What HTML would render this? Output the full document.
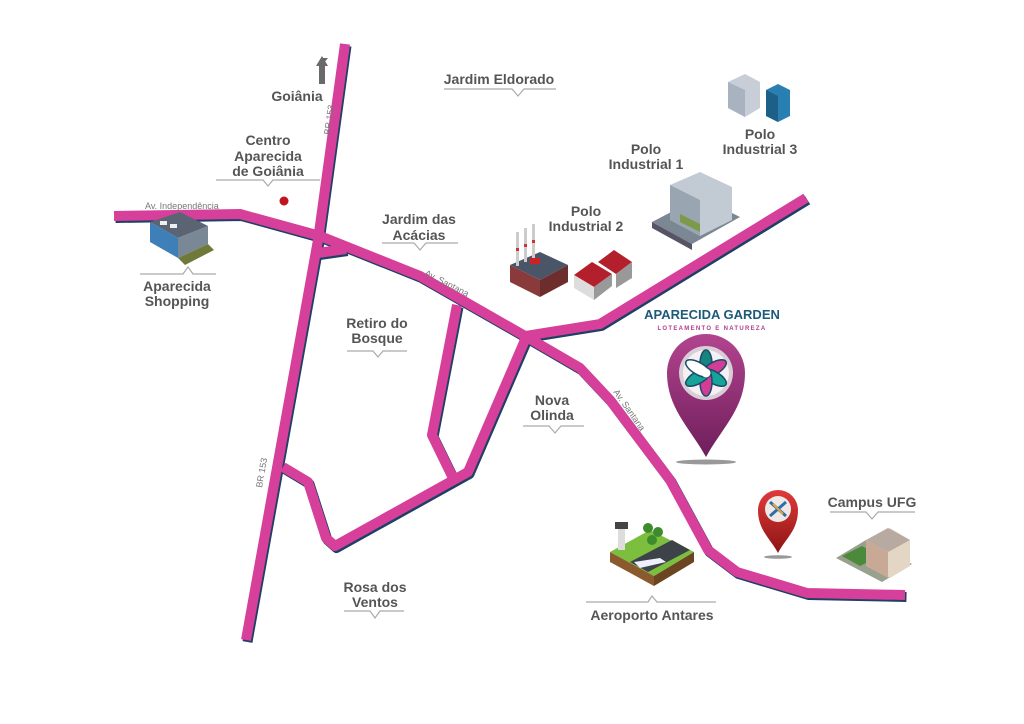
<!DOCTYPE html>
<html><head><meta charset="utf-8"><style>
html,body{margin:0;padding:0;background:#fff;width:1024px;height:724px;overflow:hidden}
svg{display:block}
.l{font-family:"Liberation Sans",sans-serif;font-weight:bold;font-size:14px;fill:#555;text-anchor:middle}
.s{font-family:"Liberation Sans",sans-serif;font-size:9px;fill:#777}
.u{fill:none;stroke:#aaa;stroke-width:1.2}
</style></head><body>
<svg width="1024" height="724" viewBox="0 0 1024 724">
<defs>
<linearGradient id="pg" x1="0" y1="0" x2="0" y2="1"><stop offset="0" stop-color="#b3448f"/><stop offset="1" stop-color="#6e1e5b"/></linearGradient>
<linearGradient id="rg" x1="0" y1="0" x2="0" y2="1"><stop offset="0" stop-color="#e03a3a"/><stop offset="1" stop-color="#8e1414"/></linearGradient>
</defs>
<g fill="none" stroke-linejoin="round" stroke-linecap="butt">
<g stroke="#1e3f66" stroke-width="10" transform="translate(1.5,2)">
<polyline points="345,44 318,240 246,640"/>
<polyline points="114,216 240,214 320,236 420,276 525,336 600,324 806,198"/>
<polyline points="525,336 580,368 610,400 670,480 708,550 737,572 807,593 905,595"/>
<polyline points="318,253 346,249"/>
<polyline points="525,340 468,472 335,546 326,538 308,482 283,467"/>
<polyline points="457,305 432,435 452,476"/>
</g>
<g stroke="#d6409a" stroke-width="10">
<polyline points="345,44 318,240 246,640"/>
<polyline points="114,216 240,214 320,236 420,276 525,336 600,324 806,198"/>
<polyline points="525,336 580,368 610,400 670,480 708,550 737,572 807,593 905,595"/>
<polyline points="318,253 346,249"/>
<polyline points="525,340 468,472 335,546 326,538 308,482 283,467"/>
<polyline points="457,305 432,435 452,476"/>
</g>
</g>
<!-- road labels -->
<text class="s" x="145" y="209">Av. Independência</text>
<text class="s" transform="translate(330,135) rotate(-82)">BR 153</text>
<text class="s" transform="translate(262,488) rotate(-80)">BR 153</text>
<text class="s" transform="translate(424,275) rotate(27)">Av. Santana</text>
<text class="s" transform="translate(613,392) rotate(55)">Av. Santana</text>
<!-- arrow -->
<polygon points="322,65 317,65 322,58 316,58 322,58 328,58" fill="#666"/>
<polygon points="316,66 322,56 328,66 325,66 325,84 319,84 319,66" fill="#6a6a6a"/>
<!-- labels -->
<text class="l" x="297" y="101">Goiânia</text>
<text class="l" x="268" y="145">Centro</text>
<text class="l" x="268" y="161">Aparecida</text>
<text class="l" x="268" y="176">de Goiânia</text>
<polyline class="u" points="216,180 263,180 268,186 273,180 320,180"/>
<circle cx="284" cy="201" r="4.5" fill="#c0141e"/>
<text class="l" x="499" y="84">Jardim Eldorado</text>
<polyline class="u" points="444,89 512,89 518,96 524,89 556,89"/>
<text class="l" x="419" y="224">Jardim das</text>
<text class="l" x="419" y="240">Acácias</text>
<polyline class="u" points="382,243 414,243 420,250 426,243 458,243"/>
<text class="l" x="177" y="291">Aparecida</text>
<text class="l" x="177" y="306">Shopping</text>
<polyline class="u" points="140,274 183,274 188,267 193,274 216,274"/>
<text class="l" x="377" y="328">Retiro do</text>
<text class="l" x="377" y="343">Bosque</text>
<polyline class="u" points="347,351 373,351 378,357 383,351 407,351"/>
<text class="l" x="552" y="405">Nova</text>
<text class="l" x="552" y="420">Olinda</text>
<polyline class="u" points="523,426 549,426 555,433 561,426 584,426"/>
<text class="l" x="375" y="592">Rosa dos</text>
<text class="l" x="375" y="607">Ventos</text>
<polyline class="u" points="344,611 370,611 375,618 380,611 404,611"/>
<text class="l" x="652" y="620">Aeroporto Antares</text>
<polyline class="u" points="586,602 648,602 652,596 657,602 716,602"/>
<text class="l" x="872" y="507">Campus UFG</text>
<polyline class="u" points="830,512 866,512 872,519 878,512 915,512"/>
<text class="l" x="646" y="154">Polo</text>
<text class="l" x="646" y="169">Industrial 1</text>
<text class="l" x="586" y="216">Polo</text>
<text class="l" x="586" y="231">Industrial 2</text>
<text class="l" x="760" y="139">Polo</text>
<text class="l" x="760" y="154">Industrial 3</text>
<!-- Aparecida Garden -->
<text x="712" y="319" text-anchor="middle" font-family="Liberation Sans,sans-serif" font-weight="bold" font-size="13" fill="#1d5a78">APARECIDA GARDEN</text>
<text x="712" y="330" text-anchor="middle" font-family="Liberation Sans,sans-serif" font-weight="bold" font-size="6" letter-spacing="1.3" fill="#b23b8c">LOTEAMENTO E NATUREZA</text>
<ellipse cx="706" cy="462" rx="30" ry="2.5" fill="#555" opacity="0.6"/>
<path d="M706,457 C690,428 667,408 667,373 A39,39 0 0 1 745,373 C745,408 722,428 706,457 Z" fill="url(#pg)"/>
<circle cx="706" cy="373" r="27" fill="#d9cdd6"/>
<circle cx="706" cy="373" r="23" fill="#f4f0f3"/>
<g transform="translate(706,373)">
<ellipse rx="6" ry="14" transform="rotate(0) translate(0,-9)" fill="#16847f" stroke="#1b4b6a" stroke-width="1.5"/>
<ellipse rx="6" ry="14" transform="rotate(60) translate(0,-9)" fill="#d23d96" stroke="#1b4b6a" stroke-width="1.5"/>
<ellipse rx="6" ry="14" transform="rotate(120) translate(0,-9)" fill="#16a39a" stroke="#1b4b6a" stroke-width="1.5"/>
<ellipse rx="6" ry="14" transform="rotate(180) translate(0,-9)" fill="#d23d96" stroke="#1b4b6a" stroke-width="1.5"/>
<ellipse rx="6" ry="14" transform="rotate(240) translate(0,-9)" fill="#16a39a" stroke="#1b4b6a" stroke-width="1.5"/>
<ellipse rx="6" ry="14" transform="rotate(300) translate(0,-9)" fill="#fff" stroke="#1b4b6a" stroke-width="1.5"/>
<circle r="4.5" fill="#fff"/>
</g>
<!-- red pin -->
<ellipse cx="778" cy="557" rx="14" ry="1.8" fill="#555" opacity="0.6"/>
<path d="M778,553 C770,538 758,530 758,510 A20,20 0 0 1 798,510 C798,530 786,538 778,553 Z" fill="url(#rg)"/>
<circle cx="778" cy="509" r="13" fill="#efe9e5"/>
<path d="M770,502 L786,516 M786,502 L770,516" stroke="#2a6fae" stroke-width="3"/>
<path d="M773,504 L783,514" stroke="#e8a43a" stroke-width="2"/>
<!-- shopping -->
<polygon points="150,222 180,212 208,226 178,238" fill="#5b6472"/>
<polygon points="150,222 178,238 178,258 150,242" fill="#3f7fb8"/>
<polygon points="178,238 208,226 208,244 178,258" fill="#7a8895"/>
<polygon points="178,258 208,244 214,250 185,265" fill="#6f7a3a"/>
<rect x="160" y="221" width="7" height="4" fill="#eee"/><rect x="170" y="224" width="7" height="4" fill="#eee"/>
<!-- factory 2 -->
<polygon points="510,265 540,252 568,265 540,280" fill="#4a5568"/>
<polygon points="510,265 540,280 540,297 510,282" fill="#8a3a3a"/>
<polygon points="540,280 568,265 568,282 540,297" fill="#6e2d2d"/>
<rect x="516" y="232" width="3" height="34" fill="#ccc"/><rect x="524" y="228" width="3" height="34" fill="#ccc"/><rect x="532" y="224" width="3" height="34" fill="#ccc"/>
<rect x="516" y="248" width="3" height="3" fill="#c33"/><rect x="524" y="244" width="3" height="3" fill="#c33"/><rect x="532" y="240" width="3" height="3" fill="#c33"/>
<rect x="530" y="258" width="10" height="6" fill="#c22"/>
<!-- warehouses -->
<polygon points="574,275 592,262 612,274 594,287" fill="#b31f2a"/>
<polygon points="574,275 594,287 594,300 574,288" fill="#ddd"/>
<polygon points="594,287 612,274 612,286 594,300" fill="#999"/>
<polygon points="598,262 614,250 632,262 616,274" fill="#b31f2a"/>
<polygon points="616,274 632,262 632,278 616,288" fill="#999"/>
<!-- industrial 1 -->
<polygon points="652,222 700,197 740,217 692,244" fill="#7c8794"/>
<polygon points="670,185 700,172 732,187 732,220 700,236 670,220" fill="#c2cad4"/>
<polygon points="670,185 700,200 700,236 670,220" fill="#9aa5b2"/>
<polygon points="652,222 692,244 692,250 652,228" fill="#556"/>
<polygon points="680,214 700,224 700,232 680,222" fill="#7b9b4a"/>
<!-- industrial 3 -->
<polygon points="728,82 745,74 760,82 760,108 745,117 728,108" fill="#c7ced8"/>
<polygon points="728,82 745,90 745,117 728,108" fill="#a9b3c0"/>
<polygon points="766,90 778,84 790,90 790,116 778,122 766,116" fill="#2a7fb2"/>
<polygon points="766,90 778,96 778,122 766,116" fill="#1e5f88"/>
<!-- airport -->
<polygon points="610,552 650,530 694,552 654,576" fill="#7cbf3e"/>
<polygon points="610,552 654,576 654,586 610,562" fill="#8a5a2e"/>
<polygon points="654,576 694,552 694,562 654,586" fill="#6b4422"/>
<polygon points="630,562 672,540 690,550 648,572" fill="#3d4248"/>
<polygon points="634,562 660,558 666,562 640,568" fill="#eef"/>
<rect x="618" y="528" width="7" height="22" fill="#ddd"/>
<rect x="615" y="522" width="13" height="7" fill="#444"/>
<circle cx="648" cy="528" r="5" fill="#3d8b2d"/><circle cx="658" cy="532" r="5" fill="#3d8b2d"/><circle cx="652" cy="540" r="5" fill="#3d8b2d"/>
<!-- campus -->
<polypon/>
<polygon points="836,558 866,540 912,564 882,582" fill="#9aa08e"/>
<polygon points="842,556 862,546 880,556 860,566" fill="#4b8a3b"/>
<polygon points="866,540 890,528 910,540 910,566 890,578 866,566" fill="#e4d6c4"/>
<polygon points="866,540 888,552 888,578 866,566" fill="#c7a996"/>
<polygon points="866,540 888,528 910,540 888,552" fill="#b8aaa0"/>
</svg>
</body></html>
